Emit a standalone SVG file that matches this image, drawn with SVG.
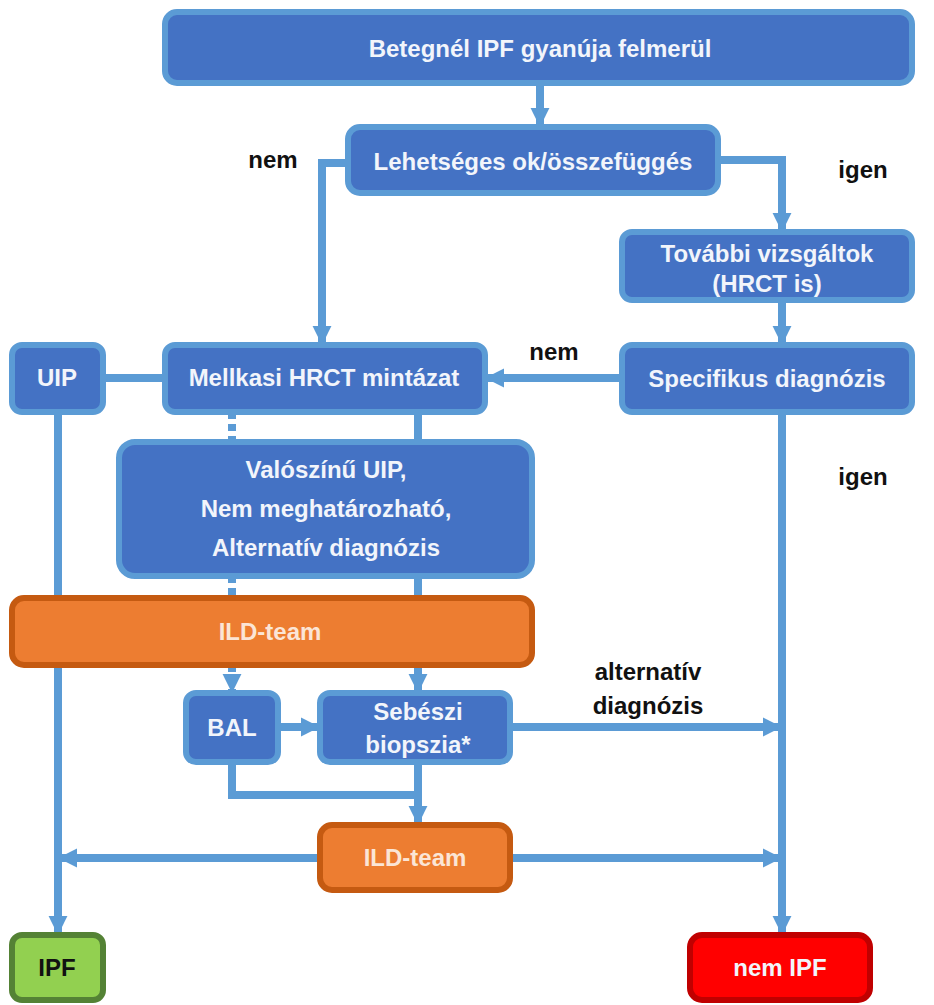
<svg xmlns="http://www.w3.org/2000/svg" width="934" height="1005" viewBox="0 0 934 1005">
  <defs>
    <style>
      .box { fill: #4472c4; stroke: #5b9bd5; stroke-width: 6; }
      .orange { fill: #ed7d31; stroke: #c55a11; stroke-width: 6; }
      .green { fill: #92d050; stroke: #548235; stroke-width: 6; }
      .red { fill: #ff0000; stroke: #c00000; stroke-width: 6; }
      .t { font-family: "Liberation Sans", Arial, sans-serif; font-weight: bold; font-size: 24px; fill: #f2f5fb; text-anchor: middle; }
      .to { fill: #fbe5d6; }
      .tk { fill: #111111; }
      .lbl { font-family: "Liberation Sans", Arial, sans-serif; font-weight: bold; font-size: 24px; fill: #111111; text-anchor: middle; }
      .ln { fill: none; stroke: #5b9bd5; stroke-width: 8; }
      .dash { stroke-dasharray: 7 5; }
    </style>
    <marker id="ah" viewBox="0 0 10 10" refX="9" refY="5" markerWidth="2.4" markerHeight="2.4" orient="auto" markerUnits="strokeWidth">
      <path d="M0,0 L10,5 L0,10 z" fill="#5b9bd5"/>
    </marker>
  </defs>

  <rect width="934" height="1005" fill="#ffffff"/>

  <!-- connectors -->
  <g id="connectors">
    <path class="ln" d="M540,83 V125" marker-end="url(#ah)"/>
    <path class="ln" d="M348,163 H322 V343" marker-end="url(#ah)"/>
    <path class="ln" d="M718,160 H782 V230" marker-end="url(#ah)"/>
    <path class="ln" d="M782,300 V343" marker-end="url(#ah)"/>
    <path class="ln" d="M622,378 H487" marker-end="url(#ah)"/>
    <path class="ln" d="M782,412 V933" marker-end="url(#ah)"/>
    <path class="ln" d="M103,378 H165"/>
    <path class="ln" d="M58,412 V933" marker-end="url(#ah)"/>
    <path class="ln dash" d="M232,412 V442"/>
    <path class="ln" d="M418,412 V442"/>
    <path class="ln dash" d="M232,576 V598"/>
    <path class="ln" d="M418,576 V598"/>
    <path class="ln dash" d="M232,665 V691" marker-end="url(#ah)"/>
    <path class="ln" d="M418,665 V691" marker-end="url(#ah)"/>
    <path class="ln" d="M278,727 H318" marker-end="url(#ah)"/>
    <path class="ln" d="M510,727 H780" marker-end="url(#ah)"/>
    <path class="ln" d="M232,762 V795 H418"/>
    <path class="ln" d="M418,762 V823" marker-end="url(#ah)"/>
    <path class="ln" d="M320,858 H60" marker-end="url(#ah)"/>
    <path class="ln" d="M510,858 H780" marker-end="url(#ah)"/>
  </g>

  <!-- edge labels -->
  <g id="labels">
    <text class="lbl" x="273" y="168">nem</text>
    <text class="lbl" x="863" y="178">igen</text>
    <text class="lbl" x="554" y="360">nem</text>
    <text class="lbl" x="863" y="485">igen</text>
    <text class="lbl" x="648" y="680">alternatív</text>
    <text class="lbl" x="648" y="714">diagnózis</text>
  </g>

  <g id="n-start">
    <rect class="box" x="165" y="12" width="747" height="71" rx="12"/>
    <text class="t" x="540" y="57">Betegnél IPF gyanúja felmerül</text>
  </g>
  <g id="n-ok">
    <rect class="box" x="348" y="127" width="370" height="66" rx="12"/>
    <text class="t" x="533" y="170">Lehetséges ok/összefüggés</text>
  </g>
  <g id="n-tovabbi">
    <rect class="box" x="622" y="232" width="290" height="68" rx="10"/>
    <text class="t" x="767" y="262">További vizsgáltok</text>
    <text class="t" x="767" y="292">(HRCT is)</text>
  </g>
  <g id="n-specifikus">
    <rect class="box" x="622" y="345" width="290" height="67" rx="10"/>
    <text class="t" x="767" y="387">Specifikus diagnózis</text>
  </g>
  <g id="n-mellkasi">
    <rect class="box" x="165" y="345" width="320" height="67" rx="10"/>
    <text class="t" x="324" y="386">Mellkasi HRCT mintázat</text>
  </g>
  <g id="n-uip">
    <rect class="box" x="12" y="345" width="91" height="67" rx="10"/>
    <text class="t" x="57" y="386">UIP</text>
  </g>
  <g id="n-valoszinu">
    <rect class="box" x="119" y="442" width="413" height="134" rx="16"/>
    <text class="t" x="326" y="478">Valószínű UIP,</text>
    <text class="t" x="326" y="517">Nem meghatározható,</text>
    <text class="t" x="326" y="556">Alternatív diagnózis</text>
  </g>
  <g id="n-ild1">
    <rect class="orange" x="12" y="598" width="520" height="67" rx="12"/>
    <text class="t to" x="270" y="640">ILD-team</text>
  </g>
  <g id="n-bal">
    <rect class="box" x="186" y="693" width="92" height="69" rx="10"/>
    <text class="t" x="232" y="736">BAL</text>
  </g>
  <g id="n-sebeszi">
    <rect class="box" x="320" y="693" width="190" height="69" rx="10"/>
    <text class="t" x="418" y="720">Sebészi</text>
    <text class="t" x="418" y="753">biopszia*</text>
  </g>
  <g id="n-ild2">
    <rect class="orange" x="320" y="825" width="190" height="65" rx="12"/>
    <text class="t to" x="415" y="866">ILD-team</text>
  </g>
  <g id="n-ipf">
    <rect class="green" x="12" y="935" width="91" height="65" rx="10"/>
    <text class="t tk" x="57" y="976">IPF</text>
  </g>
  <g id="n-nemipf">
    <rect class="red" x="690" y="935" width="180" height="65" rx="12"/>
    <text class="t" x="780" y="976">nem IPF</text>
  </g>
</svg>
